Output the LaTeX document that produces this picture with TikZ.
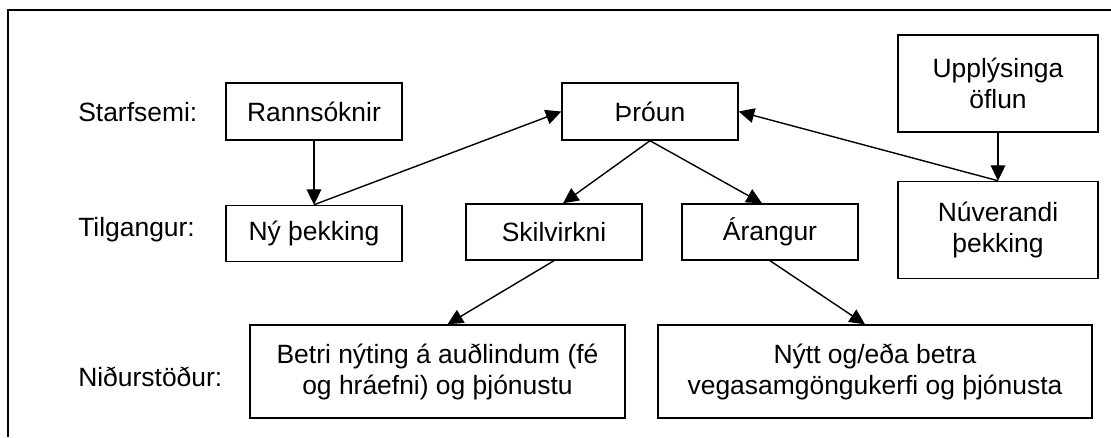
\documentclass[tikz,border=0pt]{standalone}
\usepackage{fontspec}
\setmainfont{Liberation Sans}
\usetikzlibrary{shapes,arrows.meta,positioning,calc}

\begin{document}
\begin{tikzpicture}[x=0.025cm, y=-0.025cm,
	every node/.style={font=\fontsize{18.8}{22}\selectfont},
	box/.style={rectangle, draw, line width=1pt, align=center, inner sep=0pt},
	lbl/.style={anchor=west, inner sep=0pt},
	pil/.style={line width=1pt, -{Triangle[length=11pt, width=10.5pt]}}]
				\useasboundingbox (0,0) rectangle (1111,437);
				\draw[line width=1.5pt] (8,437) -- (8,10) -- (1115,10);
				
				\node[lbl] (starf) at (78,112) {Starfsemi:};
				\node[lbl] (tilg) at (78,230) {Tilgangur:};
				\node[lbl] (nidur) at (78,377) {Niðurstöður:};
				
				\node[box, minimum width=4.4cm, minimum height=1.425cm] (rann) at (314,111.5) {Rannsóknir};
				\node[box, minimum width=4.4cm, minimum height=1.425cm] (throun) at (650,111.5) {Þróun};
				\node[box, minimum width=5cm, minimum height=2.425cm] (uppl) at (998,83.5) {Upplýsinga\\öflun};
				\node[box, minimum width=5cm, minimum height=2.425cm, below=1.2cm of uppl] (nuv) {Núverandi\\þekking};
				\node[box, minimum width=4.4cm, minimum height=1.4cm, below=1.6cm of rann] (nyth) {Ný þekking};
				\node[box, minimum width=4.4cm, minimum height=1.4cm] (skil) at (554,232) {Skilvirkni};
				\node[box, minimum width=4.4cm, minimum height=1.4cm] (arang) at (770,232) {Árangur};
				\node[box, minimum width=9.375cm, minimum height=2.325cm] (betri) at (437.5,371.5) {Betri nýting á auðlindum (fé\\og hráefni) og þjónustu};
				\node[box, minimum width=10.85cm, minimum height=2.325cm] (nytt) at (875,371.5) {Nýtt og/eða betra\\vegasamgöngukerfi og þjónusta};
				
				\draw[pil] (rann) -- (nyth);
				\draw[pil] (nyth.north) -- (throun.west);
				\draw[pil] (nuv.north) -- (throun.east);
				\draw[pil] (uppl) -- (nuv);
				\draw[pil] (throun.south) -- ($(skil.north)+(9,0)$);
				\draw[pil] (throun.south) -- ($(arang.north)+(-8,0)$);
				\draw[pil] (skil.south) -- ($(betri.north)+(10,0)$);
				\draw[pil] (arang.south) -- ($(nytt.north)+(-10,0)$);
			\end{tikzpicture}
\end{document}
